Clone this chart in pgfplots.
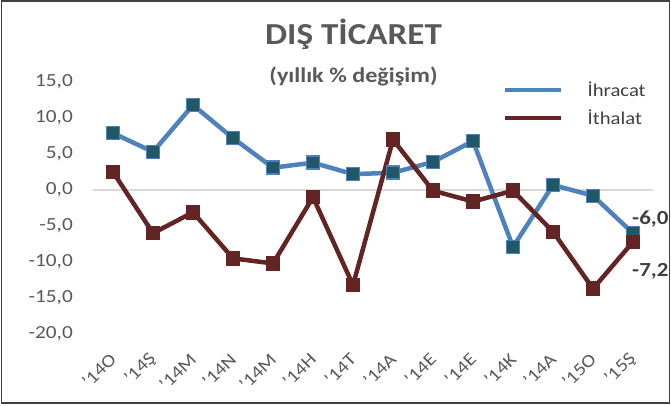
\documentclass[border=0pt]{standalone}
\usepackage{pgfplots}
\pgfplotsset{compat=1.18}
\usepackage{fontspec}
\setmainfont{Carlito}[FakeStretch=1.15]
\definecolor{ihblue}{RGB}{79,129,189}
\definecolor{ihmark}{RGB}{33,88,104}
\definecolor{itred}{RGB}{99,37,35}
\definecolor{txtgray}{RGB}{89,89,89}
\definecolor{lblgray}{RGB}{64,64,64}
\definecolor{zerogray}{RGB}{217,217,217}

\begin{document}
\begin{tikzpicture}[x=1bp,y=1bp]
\path[use as bounding box] (0,0) rectangle (671,405);
\draw[lblgray, line width=1.5bp] (1.5,2) rectangle (669.5,404);
\begin{axis}[
    scale only axis, width=560bp, height=252bp,
    at={(93bp,71bp)}, anchor=south west,
    xmin=-0.5, xmax=13.5, ymin=-20, ymax=15,
    clip=false,
    axis line style={draw=none},
    major tick length=0pt,
    xtick={0,...,13},
    xticklabels={'14O,'14Ş,'14M,'14N,'14M,'14H,'14T,'14A,'14E,'14E,'14K,'14A,'15O,'15Ş},
    ytick={-20,-15,...,15},
    /pgf/number format/assume math mode=true,
    y tick label style={/pgf/number format/fixed, /pgf/number format/fixed zerofill,
        /pgf/number format/precision=1, /pgf/number format/use comma,
        anchor=east, inner sep=0pt, xshift=-20bp, text=txtgray, font=\fontsize{18.5bp}{22bp}\selectfont},
    x tick label style={rotate=45, anchor=east, inner sep=0pt, text=txtgray, font=\fontsize{18bp}{21bp}\selectfont},
    xticklabel shift=22bp,
    legend style={draw=none, fill=none, inner sep=0pt, at={(0.732,1.01)}, anchor=north west,
        row sep=8bp, text=lblgray, font=\fontsize{18bp}{21bp}\selectfont,
        /tikz/every odd column/.append style={column sep=22bp}},
    legend cell align=left,
    legend image code/.code={\draw[#1] (0bp,0bp) -- (56bp,0bp);},
]
\draw[zerogray, line width=1.5bp] (axis cs:-0.5,0) -- (axis cs:13.5,0);
\addplot[color=ihblue, line width=4.5bp, mark=square*, mark size=6.5bp,
    mark options={fill=ihmark, draw=ihblue, line width=1.5bp}]
    coordinates {
    (0,7.9)(1,5.3)(2,11.8)(3,7.2)(4,3.1)(5,3.8)(6,2.2)(7,2.4)(8,3.9)(9,6.8)(10,-7.9)(11,0.7)(12,-0.8)(13,-6.0)
    };
\addlegendentry{İhracat}
\addplot[color=itred, line width=4.5bp, mark=square*, mark size=6.5bp,
    mark options={fill=itred, draw=itred, line width=1.5bp}]
    coordinates {
    (0,2.5)(1,-6.0)(2,-3.1)(3,-9.5)(4,-10.2)(5,-1.0)(6,-13.2)(7,7.0)(8,-0.1)(9,-1.6)(10,-0.1)(11,-5.8)(12,-13.7)(13,-7.2)
    };
\addlegendentry{İthalat}
\node[anchor=base west, inner sep=0pt, xshift=-1bp, yshift=9bp, text=lblgray,
    font=\fontsize{20bp}{24bp}\selectfont\bfseries] at (axis cs:13,-6.0) {-6,0};
\node[anchor=base west, inner sep=0pt, xshift=-1bp, yshift=-35bp, text=lblgray,
    font=\fontsize{20bp}{24bp}\selectfont\bfseries] at (axis cs:13,-7.2) {-7,2};
\end{axis}
\node[anchor=base, inner sep=0pt, text=txtgray, font=\fontsize{30.5bp}{36bp}\selectfont\bfseries]
    at (353.5,361) {DIŞ TİCARET};
\node[anchor=base, inner sep=0pt, text=txtgray, font=\fontsize{21bp}{25bp}\selectfont\bfseries]
    at (353.5,323) {(yıllık \% değişim)};
\end{tikzpicture}
\end{document}
